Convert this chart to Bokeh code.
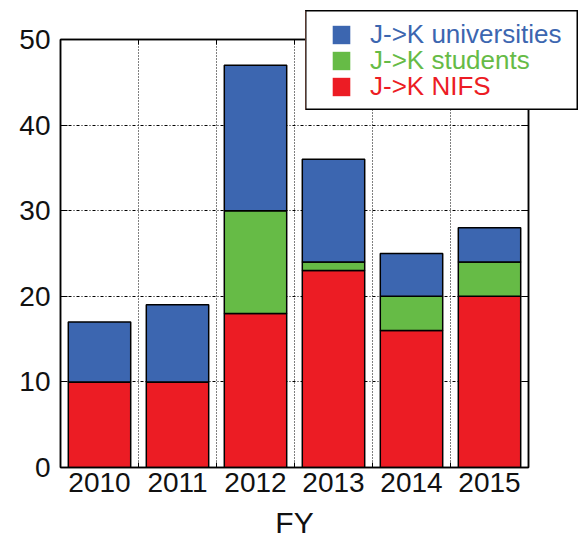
from bokeh.plotting import figure
from bokeh.models import (ColumnDataSource, FixedTicker, LinearAxis,
                          Legend, LegendItem, Range1d)
from bokeh.embed import file_html
from bokeh.resources import INLINE

# Exchange counts per fiscal year
years = ["2010", "2011", "2012", "2013", "2014", "2015"]
nifs = [10, 10, 18, 23, 16, 20]
students = [0, 0, 12, 1, 4, 4]
universities = [7, 9, 17, 12, 5, 4]
series_names = ["J->K NIFS", "J->K students", "J->K universities"]
y_ticks = [0, 10, 20, 30, 40, 50]

RED = "#EC1C24"
GREEN = "#66BB46"
BLUE = "#3C66B0"
FONT = "Liberation Sans"

pos = list(range(1, len(years) + 1))
bounds = [i + 0.5 for i in range(1, len(years))]

src = ColumnDataSource(dict(x=pos, nifs=nifs, students=students,
                            universities=universities))

chart = figure(width=581, height=541, x_range=Range1d(0.5, len(years) + 0.5),
               y_range=Range1d(0, 50), output_backend="svg",
               toolbar_location=None, min_border_left=60, min_border_right=53,
               min_border_top=39, min_border_bottom=74,
               x_axis_location=None, y_axis_location=None)

chart.background_fill_color = "white"
chart.border_fill_color = "white"
chart.outline_line_color = "black"
chart.outline_line_width = 1.5

# stacked bars
chart.vbar_stack(["nifs", "students", "universities"], x="x", width=0.8,
                 source=src, fill_color=[RED, GREEN, BLUE],
                 line_color="black", line_width=1.5)

# grid: dash-dot horizontals, dotted verticals between bars
chart.ygrid.ticker = FixedTicker(ticks=y_ticks[1:-1])
chart.ygrid.grid_line_color = "black"
chart.ygrid.grid_line_dash = "3 2 1 2"
chart.ygrid.grid_line_width = 1
chart.xgrid.ticker = FixedTicker(ticks=bounds)
chart.xgrid.grid_line_color = "black"
chart.xgrid.grid_line_dash = "1 2"
chart.xgrid.grid_line_width = 1

xt = FixedTicker(ticks=pos, minor_ticks=bounds)
yt = FixedTicker(ticks=y_ticks)


def style_axis(ax):
    ax.axis_line_color = "black"
    ax.axis_line_width = 1.5
    ax.major_tick_line_color = "black"
    ax.minor_tick_line_color = "black"
    ax.major_label_text_font = FONT
    ax.major_label_text_font_size = "28px"
    ax.major_label_text_color = "#111111"
    ax.axis_label_text_font = FONT
    ax.axis_label_text_font_style = "normal"
    ax.axis_label_text_font_size = "30px"
    ax.axis_label_text_color = "#111111"


bottom = LinearAxis(ticker=xt, axis_label="FY",
                    major_label_overrides={i: y for i, y in zip(pos, years)})
style_axis(bottom)
bottom.major_tick_in = 0
bottom.major_tick_out = 0
bottom.minor_tick_in = 5
bottom.minor_tick_out = 0
bottom.major_label_standoff = 5
bottom.axis_label_standoff = 11
chart.add_layout(bottom, "below")

top = LinearAxis(ticker=xt)
style_axis(top)
top.major_tick_in = 0
top.major_tick_out = 0
top.minor_tick_in = 5
top.minor_tick_out = 0
top.major_label_text_color = None
top.major_label_text_font_size = "1px"
chart.add_layout(top, "above")

left = LinearAxis(ticker=yt)
style_axis(left)
left.major_tick_in = 7
left.major_tick_out = 0
left.minor_tick_line_color = None
left.major_label_standoff = 10
chart.add_layout(left, "left")

right = LinearAxis(ticker=yt)
style_axis(right)
right.major_tick_in = 7
right.major_tick_out = 0
right.minor_tick_line_color = None
right.major_label_text_color = None
right.major_label_text_font_size = "1px"
chart.add_layout(right, "right")

# legend panel, laid over the top-right corner of the chart
key = figure(width=273, height=100, x_range=Range1d(0, 1),
             y_range=Range1d(0, 1), output_backend="svg",
             toolbar_location=None, min_border=0,
             x_axis_location=None, y_axis_location=None)
key.grid.visible = False
key.background_fill_color = "white"
key.border_fill_color = "white"
key.outline_line_color = "black"
key.outline_line_width = 2
key.styles = {"position": "absolute", "left": "305px", "top": "10px",
              "z-index": "10"}

rows = [(series_names[2], BLUE, 60), (series_names[1], GREEN, 34),
        (series_names[0], RED, 8)]
for name, col, ybot in rows:
    # swatch renderer sits outside the visible range; only its key is shown
    swatch = key.vbar(x=[-10], top=[1], width=0.8, fill_color=col,
                      line_alpha=0)
    lg = Legend(items=[LegendItem(label=name, renderers=[swatch])],
                location=(25, ybot), padding=0, margin=0, spacing=0,
                glyph_width=22, glyph_height=23, label_standoff=18,
                label_height=23, label_text_font=FONT,
                label_text_font_size="26px", label_text_color=col,
                border_line_alpha=0, background_fill_alpha=0)
    key.add_layout(lg, "center")

# two independent roots: the chart, and the legend panel on top of it
p = [chart, key]

open("out.html", "w").write(file_html(p, INLINE))
